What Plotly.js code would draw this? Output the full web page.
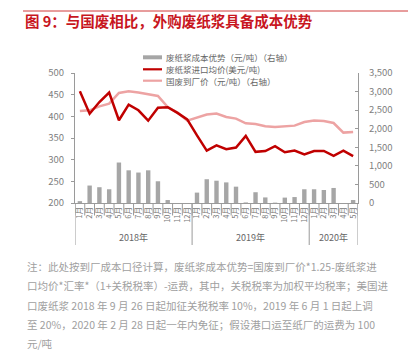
<!DOCTYPE html>
<html>
<head>
<meta charset="utf-8">
<script src="https://cdn.plot.ly/plotly-3.0.1.min.js"></script>
<style>
html,body{margin:0;padding:0;background:#fff;}
#chart{width:414px;height:351px;}
</style>
</head>
<body>
<div id="chart"></div>
<script>
// ---- data ----
var categories = ["2018-01","2018-02","2018-03","2018-04","2018-05","2018-06","2018-07","2018-08","2018-09","2018-10","2018-11","2018-12",
                  "2019-01","2019-02","2019-03","2019-04","2019-05","2019-06","2019-07","2019-08","2019-09","2019-10","2019-11","2019-12",
                  "2020-01","2020-02","2020-03","2020-04","2020-05"];
var monthLabels = ["1月","2月","3月","4月","5月","6月","7月","8月","9月","10月","11月","12月",
                   "1月","2月","3月","4月","5月","6月","7月","8月","9月","10月","11月","12月",
                   "1月","2月","3月","4月","5月"];
var years = ["2018年","2019年","2020年"];
var yearMonthCounts = [12, 12, 5];
var costAdvantage = [50, 470, 425, 370, 1090, 880, 820, 880, 585, 80, 0, 0,
                     280, 640, 600, 555, 440, 15, 290, 150, 10, 145, 160, 370,
                     370, 350, 405, 0, 80];
var importPriceUSD = [458, 406, 433, 455, 391, 427, 414, 390, 420, 421, 408, 393,
                      356, 321, 333, 324, 328, 355, 318, 320, 331, 317, 321, 312,
                      320, 320, 309, 321, 308];
var domesticPrice = [2477, 2495, 2603, 2676, 2961, 3007, 2972, 2934, 2880, 2584, 2433, 2218,
                     2299, 2380, 2406, 2315, 2272, 2145, 2127, 2065, 2046, 2065, 2083, 2180,
                     2218, 2210, 2154, 1895, 1911];
var seriesNames = ["废纸浆成本优势（元/吨）（右轴）","废纸浆进口均价(美元/吨)","国废到厂价（元/吨）（右轴）"];
var titleText = "图 9：与国废相比，外购废纸浆具备成本优势";
var noteLines = ["注：此处按到厂成本口径计算，废纸浆成本优势=国废到厂价*1.25-废纸浆进",
                 "口均价*汇率*（1+关税税率）-运费，其中，关税税率为加权平均税率；美国进",
                 "口废纸浆 2018 年 9 月 26 日起加征关税税率 10%，2019 年 6 月 1 日起上调",
                 "至 20%，2020 年 2 月 28 日起一年内免征；假设港口运至纸厂的运费为 100",
                 "元/吨"];

// ---- layout helpers (pixel -> paper) ----
var W = 414, H = 351;
var M = {l:75, r:56, t:73, b:148};
var PW = W - M.l - M.r, PH = H - M.t - M.b;
function px(x){ return (x - M.l) / PW; }
function py(y){ return (H - M.b - y) / PH; }

var barColor = "#a6a6a6", darkRed = "#c00000", pink = "#eda3a3";
var FONT = "Noto Sans CJK SC, Noto Sans, sans-serif";

var traces = [
  {type:"bar", name:seriesNames[0], x:categories, y:costAdvantage, yaxis:"y",
   marker:{color:barColor}, hoverinfo:"y", showlegend:false},
  {type:"scatter", mode:"lines", name:seriesNames[2], x:categories, y:domesticPrice, yaxis:"y",
   line:{color:pink, width:2.5}, showlegend:false},
  {type:"scatter", mode:"lines", name:seriesNames[1], x:categories, y:importPriceUSD, yaxis:"y2",
   line:{color:darkRed, width:2.5}, showlegend:false}
];

var shapes = [];
var annotations = [];

// top red rule
shapes.push({type:"line", xref:"paper", yref:"paper", x0:px(23), x1:px(408), y0:py(11), y1:py(11),
             line:{color:"#d03a3a", width:1}});

// month dividers
for (var i = 0; i <= categories.length; i++) {
  shapes.push({type:"line", xref:"x", yref:"paper", x0:i-0.5, x1:i-0.5, y0:0, y1:py(215.5),
               line:{color:"#9a9a9a", width:1}});
}
// year dividers + labels
var start = 0;
shapes.push({type:"line", xref:"x", yref:"paper", x0:-0.5, x1:-0.5, y0:0, y1:py(245), line:{color:"#9a9a9a", width:1}});
for (var k = 0; k < years.length; k++) {
  var end = start + yearMonthCounts[k];
  shapes.push({type:"line", xref:"x", yref:"paper", x0:end-0.5, x1:end-0.5, y0:0, y1:py(245),
               line:{color:"#9a9a9a", width:1}});
  annotations.push({xref:"x", yref:"paper", x:(start+end-1)/2, y:py(237), text:years[k], showarrow:false,
                    xanchor:"center", yanchor:"middle", font:{size:9, color:"#666", family:FONT}});
  start = end;
}

// custom legend
var legY = [57.3, 69.3, 80.7];
shapes.push({type:"rect", xref:"paper", yref:"paper", x0:px(143), x1:px(162), y0:py(59.3), y1:py(55.3),
             line:{width:0}, fillcolor:barColor});
shapes.push({type:"line", xref:"paper", yref:"paper", x0:px(143), x1:px(162), y0:py(legY[1]), y1:py(legY[1]),
             line:{color:darkRed, width:2.2}});
shapes.push({type:"line", xref:"paper", yref:"paper", x0:px(143), x1:px(162), y0:py(legY[2]), y1:py(legY[2]),
             line:{color:pink, width:2.2}});
for (var j = 0; j < 3; j++) {
  annotations.push({xref:"paper", yref:"paper", x:px(163.5), y:py(legY[j]), text:seriesNames[j], showarrow:false,
                    xanchor:"left", yanchor:"middle", font:{size:8.5, color:"#666", family:FONT}});
}

// footnote
var noteY = [266, 285.5, 305, 324.5, 343.5];
for (var n = 0; n < noteLines.length; n++) {
  annotations.push({xref:"paper", yref:"paper", x:px(25), y:py(noteY[n]), text:noteLines[n], showarrow:false,
                    xanchor:"left", yanchor:"middle", font:{size:10.5, color:"#a0a0a0", family:FONT}});
}

var layout = {
  width:W, height:H,
  margin:{l:M.l, r:M.r, t:M.t, b:M.b, pad:0},
  paper_bgcolor:"#fff", plot_bgcolor:"#fff",
  font:{family:FONT, color:"#777"},
  title:{text:titleText, x:25/W, xanchor:"left", xref:"container", y:1-22/H, yanchor:"middle", yref:"container",
         font:{size:14.5, color:"#c8161e", family:FONT, weight:"bold"}},
  showlegend:false,
  bargap:0.55,
  xaxis:{type:"category", range:[-0.5, categories.length-0.5], tickmode:"array", tickvals:categories, ticktext:monthLabels,
         tickangle:-90, tickfont:{size:7.5, color:"#777"}, ticks:"", showline:true, linecolor:"#9a9a9a", linewidth:1,
         showgrid:false, zeroline:false, fixedrange:true},
  yaxis:{side:"right", range:[0,3500], dtick:500, tickformat:",", showgrid:false, zeroline:false,
         showline:true, linecolor:"#9a9a9a", linewidth:1, ticks:"inside", ticklen:3, tickcolor:"#9a9a9a",
         ticklabelstandoff:8, tickfont:{size:9.5, color:"#808080"}},
  yaxis2:{side:"left", overlaying:"y", range:[200,500], dtick:50, showgrid:false, zeroline:false,
          showline:true, linecolor:"#9a9a9a", linewidth:1, ticks:"outside", ticklen:3, tickcolor:"#9a9a9a",
          ticklabelstandoff:5, tickfont:{size:9.5, color:"#808080"}},
  shapes:shapes,
  annotations:annotations
};

Plotly.newPlot("chart", traces, layout, {displayModeBar:false, staticPlot:true});
</script>
</body>
</html>
